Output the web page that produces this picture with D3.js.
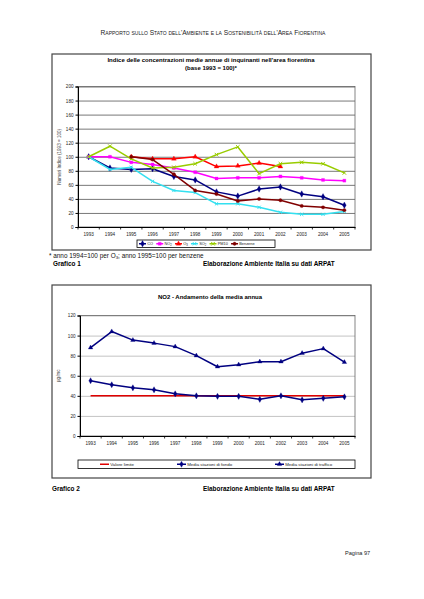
<!DOCTYPE html>
<html>
<head>
<meta charset="utf-8">
<script src="https://cdn.jsdelivr.net/npm/d3@7"></script>
<style>
  html, body { margin: 0; padding: 0; background: #fff; }
  svg { display: block; font-family: "Liberation Sans", Arial, sans-serif; }
</style>
</head>
<body>
<div id="page"></div>
<script>
// --- data ---
const years = ["1993","1994","1995","1996","1997","1998","1999","2000","2001","2002","2003","2004","2005"];

// Grafico 1: index values (base 1993 = 100), null where there is no value
const coIndex      = [100, 84, 82, 83, 72, 67, 50, 44, 54, 57, 47, 43, 31];
const no2Index     = [100, 100, 92, 89, 84, 78, 69, 70, 70, 72, 70, 67, 66];
const o3Index      = [null, null, 100, 97, 97, 100, 86, 87, 91, 86, null, null, null];
const so2Index     = [100, 82, 85, 65, 52, 49, 33, 33, 28, 21, 18, 18, 22];
const pm10Index    = [100, 115, 97, 84, 85, 90, 103, 114, 76, 90, 92, 90, 77];
const benzeneIndex = [null, null, 100, 96, 75, 52, 47, 37, 40, 38, 30, 28, 24];
const indexTicks   = [0, 20, 40, 60, 80, 100, 120, 140, 160, 180, 200];

// Grafico 2: NO2 annual mean, µg/mc
const limitValue   = [40, 40, 40, 40, 40, 40, 40, 40, 40, 40, 40, 40, 40];
const bgStations   = [55, 51, 48, 46, 42, 40, 39.5, 39.5, 36.5, 40, 36, 37.5, 39];
const trafficStations = [88, 104, 95.5, 92.5, 89, 80, 69, 71, 74, 74, 82.5, 87, 73.5];
const no2Ticks     = [0, 20, 40, 60, 80, 100, 120];

const W = 424, H = 599;
const svg = d3.select("#page").append("svg")
    .attr("width", W)
    .attr("height", H)
    .attr("viewBox", `0 0 ${W} ${H}`);

svg.append("rect").attr("width", W).attr("height", H).attr("fill", "#fff");

// running header
svg.append("text")
    .attr("x", 213).attr("y", 35)
    .attr("text-anchor", "middle")
    .attr("font-size", 6.6)
    .style("font-variant", "small-caps")
    .attr("fill", "#222")
    .text("Rapporto sullo Stato dell'Ambiente e la Sostenibilità dell'Area Fiorentina");

function symbolPath(type, size) {
    return d3.symbol().type(type).size(size)();
}

function drawChart(cfg) {
    const g = svg.append("g");

    // outer frame
    g.append("rect")
        .attr("x", cfg.frame[0]).attr("y", cfg.frame[1])
        .attr("width", cfg.frame[2] - cfg.frame[0])
        .attr("height", cfg.frame[3] - cfg.frame[1])
        .attr("fill", "none").attr("stroke", "#444").attr("stroke-width", 1.2);

    // title
    cfg.title.forEach((t, i) => {
        g.append("text")
            .attr("x", cfg.titleX).attr("y", cfg.titleY + i * 8)
            .attr("text-anchor", "middle")
            .attr("font-size", 6).attr("font-weight", "bold")
            .text(t);
    });

    const x = d3.scaleBand().domain(years).range([cfg.plot.left, cfg.plot.right]);
    const y = d3.scaleLinear().domain([0, cfg.yMax]).range([cfg.plot.bottom, cfg.plot.top]);
    const cx = d => x(d) + x.bandwidth() / 2;
    const pw = cfg.plot.right - cfg.plot.left;

    // gridlines
    g.append("g")
        .attr("transform", `translate(${cfg.plot.left},0)`)
        .call(d3.axisLeft(y).tickValues(cfg.ticks).tickSize(-pw).tickFormat(""))
        .call(a => a.select(".domain").remove())
        .call(a => a.selectAll("line").attr("stroke", cfg.gridColor).attr("stroke-width", 0.8));

    // plot border
    g.append("rect")
        .attr("x", cfg.plot.left).attr("y", cfg.plot.top)
        .attr("width", pw).attr("height", cfg.plot.bottom - cfg.plot.top)
        .attr("fill", "none").attr("stroke", "#666").attr("stroke-width", 0.8);

    // y axis
    g.append("g")
        .attr("transform", `translate(${cfg.plot.left},0)`)
        .call(d3.axisLeft(y).tickValues(cfg.ticks).tickSize(2.5).tickPadding(2))
        .call(a => a.select(".domain").attr("stroke", "#000"))
        .call(a => a.selectAll("text").attr("font-size", 4.6).attr("font-family", "Liberation Sans").attr("fill", "#222"));

    // x axis: labels at band centres, tick marks at band edges
    const xa = g.append("g")
        .attr("transform", `translate(0,${cfg.plot.bottom})`)
        .call(d3.axisBottom(x).tickSize(0).tickPadding(6))
        .call(a => a.select(".domain").attr("stroke", "#000"))
        .call(a => a.selectAll("text").attr("font-size", 4.6).attr("font-family", "Liberation Sans").attr("fill", "#222"));
    xa.selectAll(".edge")
        .data(years.concat(["end"]))
        .enter().append("line")
            .attr("class", "edge")
            .attr("x1", d => d === "end" ? cfg.plot.right : x(d))
            .attr("x2", d => d === "end" ? cfg.plot.right : x(d))
            .attr("y1", 0).attr("y2", 2.5)
            .attr("stroke", "#000").attr("stroke-width", 0.8);

    // y axis title
    g.append("text")
        .attr("transform", `translate(${cfg.yLabelX},${(cfg.plot.top + cfg.plot.bottom) / 2}) rotate(-90)`)
        .attr("text-anchor", "middle")
        .attr("font-size", 4.6).attr("fill", "#333")
        .text(cfg.yLabel);

    // series
    const line = d3.line()
        .defined(d => d.v != null)
        .x(d => cx(d.year))
        .y(d => y(d.v));

    cfg.series.forEach(s => {
        const pts = years.map((yr, i) => ({ year: yr, v: s.values[i] }));
        g.append("path")
            .datum(pts)
            .attr("d", line)
            .attr("fill", "none")
            .attr("stroke", s.color)
            .attr("stroke-width", 1.5)
            .attr("stroke-linejoin", "round");
        if (s.symbol) {
            g.selectAll(null)
                .data(pts.filter(d => d.v != null))
                .enter().append("path")
                    .attr("transform", d => `translate(${cx(d.year)},${y(d.v)})`)
                    .attr("d", symbolPath(s.symbol, s.symbolSize || 10))
                    .attr("fill", s.stroked ? "none" : s.color)
                    .attr("stroke", s.color)
                    .attr("stroke-width", s.stroked ? 1 : 0.3);
        }
    });

    // legend
    const lg = g.append("g");
    const box = cfg.legendBox;
    lg.append("rect")
        .attr("x", box[0]).attr("y", box[1])
        .attr("width", box[2] - box[0]).attr("height", box[3] - box[1])
        .attr("fill", "#fff").attr("stroke", "#000").attr("stroke-width", 0.8);
    const ly = (box[1] + box[3]) / 2;
    let lx = box[0] + 2;
    cfg.series.forEach((s, i) => {
        if (cfg.legendX) lx = cfg.legendX[i];
        lg.append("line")
            .attr("x1", lx).attr("x2", lx + cfg.sampleLen)
            .attr("y1", ly).attr("y2", ly)
            .attr("stroke", s.color).attr("stroke-width", 1.5);
        if (s.symbol) {
            lg.append("path")
                .attr("transform", `translate(${lx + cfg.sampleLen / 2},${ly})`)
                .attr("d", symbolPath(s.symbol, s.symbolSize || 10))
                .attr("fill", s.stroked ? "none" : s.color)
                .attr("stroke", s.color)
                .attr("stroke-width", s.stroked ? 1 : 0.3);
        }
        const t = lg.append("text")
            .attr("x", lx + cfg.sampleLen + 1.2).attr("y", ly + 1.5)
            .attr("font-size", cfg.legendFont).attr("fill", "#222");
        t.text(s.name);
        if (s.sub) t.append("tspan").attr("font-size", cfg.legendFont * 0.7).attr("dy", 0.7).text(s.sub);
        lx += cfg.sampleLen + 1.2 + t.node().getComputedTextLength() + cfg.legendGap;
    });

    // caption under the frame
    g.append("text")
        .attr("x", cfg.captionY[0]).attr("y", cfg.captionY[1])
        .attr("font-size", 6.4).attr("font-weight", "bold")
        .text(cfg.caption);
    g.append("text")
        .attr("x", 203).attr("y", cfg.captionY[1])
        .attr("font-size", 6.4).attr("font-weight", "bold")
        .text("Elaborazione Ambiente Italia su dati ARPAT");
}

drawChart({
    frame: [52, 54, 371, 250],
    title: ["Indice delle concentrazioni medie annue di inquinanti nell'area fiorentina", "(base 1993 = 100)*"],
    titleX: 211, titleY: 62,
    plot: { left: 78, right: 355, top: 86.5, bottom: 227 },
    yMax: 200,
    ticks: indexTicks,
    gridColor: "#555",
    yLabel: "Numeri Indice (1993 = 100)",
    yLabelX: 61,
    series: [
        { name: "CO", values: coIndex, color: "#000080", symbol: d3.symbolDiamond, symbolSize: 12 },
        { name: "NO", sub: "2", values: no2Index, color: "#FF00FF", symbol: d3.symbolSquare, symbolSize: 9 },
        { name: "O", sub: "3", values: o3Index, color: "#FF0000", symbol: d3.symbolTriangle, symbolSize: 10 },
        { name: "SO", sub: "2", values: so2Index, color: "#33E0F0", symbol: d3.symbolTimes || d3.symbolCross, symbolSize: 8, stroked: true },
        { name: "PM10", values: pm10Index, color: "#99CC00", symbol: d3.symbolTimes || d3.symbolCross, symbolSize: 10, stroked: true },
        { name: "Benzene", values: benzeneIndex, color: "#800000", symbol: d3.symbolCircle, symbolSize: 9 }
    ],
    legendBox: [137, 240, 275, 247.5],
    legendFont: 3.9,
    legendGap: 3.2,
    sampleLen: 7,
    caption: "Grafico 1",
    captionY: [53, 265.5]
});

// footnote for Grafico 1
const fn = svg.append("text")
    .attr("x", 49).attr("y", 257.5)
    .attr("font-size", 6.4).attr("fill", "#111")
    .text("* anno 1994=100 per O");
fn.append("tspan").attr("font-size", 4.4).attr("dy", 1.2).text("3");
fn.append("tspan").attr("dy", -1.2).text("; anno 1995=100 per benzene");

drawChart({
    frame: [52, 285, 371, 478],
    title: ["NO2 - Andamento della media annua"],
    titleX: 210, titleY: 299,
    plot: { left: 80, right: 355, top: 315.5, bottom: 436 },
    yMax: 120,
    ticks: no2Ticks,
    gridColor: "#b4b4b4",
    yLabel: "µg/mc",
    yLabelX: 60,
    series: [
        { name: "Valore limite", values: limitValue, color: "#E00000" },
        { name: "Media stazioni di fondo", values: bgStations, color: "#000080", symbol: d3.symbolDiamond, symbolSize: 11 },
        { name: "Media stazioni di traffico", values: trafficStations, color: "#000080", symbol: d3.symbolTriangle, symbolSize: 9 }
    ],
    legendBox: [78, 460, 355, 468.5],
    legendX: [100, 177, 275],
    legendFont: 4.4,
    legendGap: 0,
    sampleLen: 9,
    caption: "Grafico 2",
    captionY: [52, 491]
});

// page number
svg.append("text")
    .attr("x", 345).attr("y", 554.5)
    .attr("font-size", 5.6).attr("fill", "#222")
    .text("Pagina 97");
</script>
</body>
</html>
